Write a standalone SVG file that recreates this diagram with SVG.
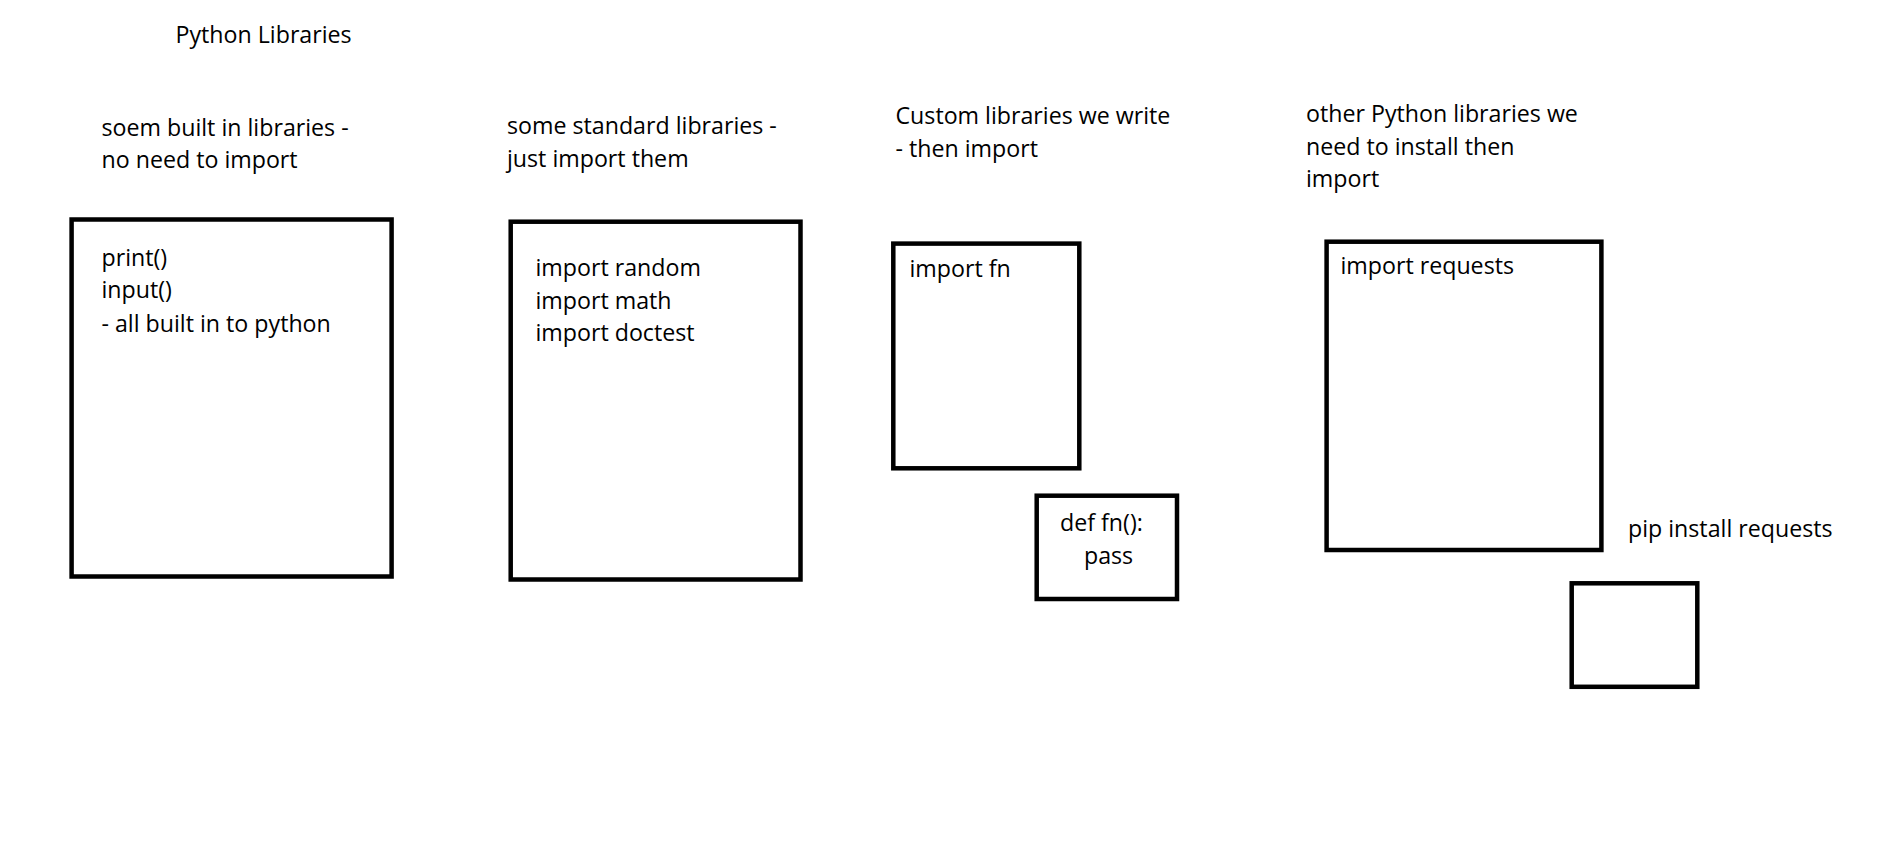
<svg xmlns="http://www.w3.org/2000/svg" width="1903" height="860" viewBox="0 0 1903 860">
<style>
  .box { fill: none; stroke: #000; stroke-width: 4.5; }
  text { font-family: "Open Sans", "Noto Sans", "DejaVu Sans", sans-serif; font-size: 23.2px; fill: #000; }
</style>
<rect x="0" y="0" width="1903" height="860" fill="#fff"/>
<g id="title">
  <text x="175.5" y="42.8">Python Libraries</text>
</g>
<g id="heading-builtin">
  <text x="101.5" y="135.5">soem built in libraries -</text>
  <text x="101.5" y="168.2">no need to import</text>
</g>
<g id="heading-standard">
  <text x="507" y="133.8">some standard libraries -</text>
  <text x="507" y="167.2">just import them</text>
</g>
<g id="heading-custom">
  <text x="895.5" y="123.8">Custom libraries we write</text>
  <text x="895.5" y="156.5">- then import</text>
</g>
<g id="heading-other">
  <text x="1306" y="122.2">other Python libraries we</text>
  <text x="1306" y="154.5">need to install then</text>
  <text x="1306" y="187.2">import</text>
</g>
<g id="node-builtin">
  <rect class="box" x="71.6" y="219.5" width="320" height="357"/>
  <text x="101.5" y="265.5">print()</text>
  <text x="101.5" y="298.2">input()</text>
  <text x="101.5" y="331.5">- all built in to python</text>
</g>
<g id="node-standard">
  <rect class="box" x="510.7" y="221.7" width="289.8" height="357.8"/>
  <text x="535.5" y="275.5">import random</text>
  <text x="535.5" y="308.8">import math</text>
  <text x="535.5" y="341.2">import doctest</text>
</g>
<g id="node-custom-import">
  <rect class="box" x="893.3" y="243.6" width="186" height="224.7"/>
  <text x="909.5" y="277.2">import fn</text>
</g>
<g id="node-custom-def">
  <rect class="box" x="1036.7" y="495.7" width="140.3" height="103.3"/>
  <text x="1060" y="531.2">def fn():</text>
  <text x="1084" y="563.8">pass</text>
</g>
<g id="node-requests">
  <rect class="box" x="1326.6" y="241.7" width="274.8" height="308.3"/>
  <text x="1340.5" y="273.8">import requests</text>
</g>
<g id="label-pip">
  <text x="1628" y="536.5">pip install requests</text>
</g>
<g id="node-pip">
  <rect class="box" x="1571.7" y="583.3" width="125.6" height="103.5"/>
</g>
<g id="connectors"></g>
</svg>
